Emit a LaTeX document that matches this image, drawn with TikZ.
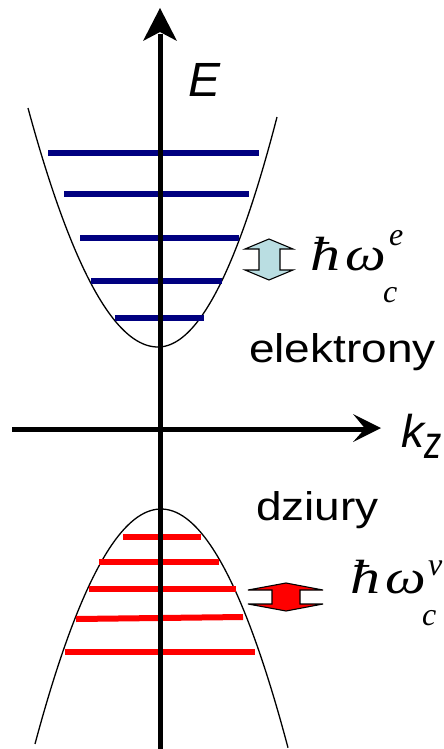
\documentclass[tikz,border=0pt]{standalone}
\usepackage[no-math]{fontspec}
\setmainfont{Liberation Serif}
\newfontfamily\sansf{Liberation Sans}
\definecolor{navy}{RGB}{0,0,128}
\definecolor{lightcyan}{RGB}{186,222,226}
\newcommand\scrfont{\fontsize{32}{32}\selectfont\itshape}
\newcommand\cyclotron[3]{\rlap{\scalebox{1.25}[1]{ħ}}\hspace*{35pt}\rlap{\scalebox{1.2}[1]{ω}}\hspace*{#3pt}\rlap{\raisebox{-32pt}{\scrfont c}}\hspace*{6pt}\raisebox{#2pt}{\scrfont #1}}
\begin{document}
\begin{tikzpicture}[x=1pt,y=-1pt,
  axisline/.style={line width=5pt},
  axishead/.style={fill=black,draw=none},
  band/.style={line width=1.3pt},
  elevel/.style={navy,line width=6pt},
  hlevel/.style={red,line width=6pt},
  dblarrow/.style={draw=black,line width=1.1pt,line join=miter},
  lbl/.style={inner sep=0pt,anchor=base west},
  bigtext/.style={lbl,font=\sansf\fontsize{40}{40}\selectfont},
  hbarlbl/.style={lbl,font=\fontsize{48}{48}\selectfont\itshape}]
\useasboundingbox (0,0) rectangle (444,749);

% conduction band
\draw[band] plot[domain=28:158,samples=50,smooth] (\x,{347-1.414*((\x-158)/10)^2});
\draw[band] plot[domain=158:277,samples=50,smooth] (\x,{347-1.624*((\x-158)/10)^2});
% valence band
\draw[band] plot[domain=35:288,samples=80,smooth] (\x,{509+1.48*((\x-161)/10)^2});

% electron levels
\draw[elevel] (48,153) -- (259,153);
\draw[elevel] (64,194) -- (249,194);
\draw[elevel] (80,238) -- (239,238);
\draw[elevel] (91,281) -- (222,281);
\draw[elevel] (115,318) -- (204,318);

% hole levels
\draw[hlevel] (123,537) -- (201,537);
\draw[hlevel] (99,562) -- (219,562);
\draw[hlevel] (89,589) -- (236,589);
\draw[hlevel] (76,619) -- (243,617);
\draw[hlevel] (65,652) -- (255,652);

% axes
\coordinate (ybot) at (160,749);
\coordinate (ytop) at (160,34);
\coordinate (xleft) at (12,429);
\coordinate (xright) at (366,429);
\draw[axisline] (ybot) -- (ytop);
\fill[axishead] (160,8) -- (177,41) -- (160,32) -- (143,41) -- cycle;
\draw[axisline] (xleft) -- (xright);
\fill[axishead] (381,428) -- (353,414) -- (365,428.5) -- (353,442) -- cycle;

% axis labels
\node[lbl,font=\sansf\itshape\fontsize{48}{48}\selectfont] (E) at (188,97) {E};
\node[lbl,font=\sansf\itshape\fontsize{46}{46}\selectfont] (kz) at (401,447) {k\raisebox{-11pt}{\scalebox{0.75}[1]{z}}};

% band labels
\node[bigtext] (el) at (249,362) {\scalebox{1.15}[1]{elektrony}};
\node[bigtext] (dz) at (256,520) {\scalebox{1.15}[1]{dziury}};

% electron cyclotron energy
\draw[dblarrow,fill=lightcyan] (269,239) -- (293,249) -- (280,249) -- (280,270) -- (293,270)
  -- (269,280) -- (245,270) -- (259,270) -- (259,249) -- (245,249) -- cycle;
\node[hbarlbl] (he) at (310,270) {\cyclotron{e}{25}{38}};

% hole cyclotron energy
\draw[dblarrow,fill=red] (286,583) -- (323,590) -- (300,590) -- (300,604) -- (323,604)
  -- (286,611) -- (248,604) -- (272,604) -- (272,590) -- (248,590) -- cycle;
\node[hbarlbl] (hv) at (350,593) {\cyclotron{v}{18}{37}};
\end{tikzpicture}
\end{document}
